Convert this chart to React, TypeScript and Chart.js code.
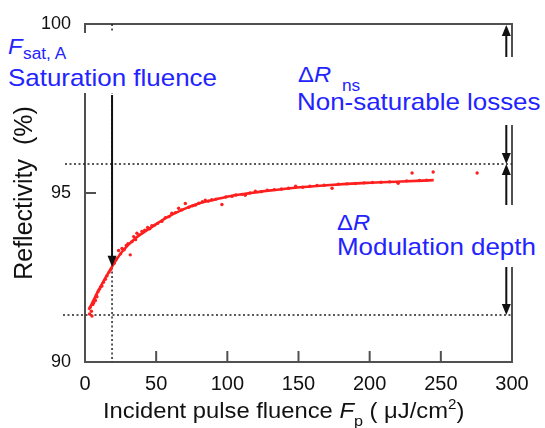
import React, { useEffect, useRef } from "react";
import { Chart, registerables } from "chart.js";

Chart.register(...registerables);

// ---- data ----
const xTickValues = [0, 50, 100, 150, 200, 250, 300];
const yTickValues = [90, 95, 100];

// fitted curve
const fitX = [2.6, 9.6, 19, 26, 35.4, 44.7, 56.4, 68.2, 79.9, 91.6, 103.3, 115, 129, 146, 170, 198, 222, 245];
const fitY = [91.54, 92.13, 92.82, 93.26, 93.66, 93.93, 94.25, 94.5, 94.69, 94.81, 94.92, 94.99, 95.07, 95.15, 95.23, 95.3, 95.34, 95.38];

// measured points
const measX = [3.2, 3.7, 4.5, 4.9, 5.5, 6.1, 6.8, 7.3, 8.0, 8.4, 9.2, 10.1, 11.0, 11.9, 13.0, 14.3, 15.5, 17.0, 18.2, 20.5, 22.0, 23.6, 25.0, 26.0, 27.5, 29.0, 30.2, 31.8, 33.0, 34.2, 35.5, 36.5, 38.0, 40.0, 42.0, 44.0, 45.5, 47.0, 49.0, 51.0, 54.0, 56.5, 59.0, 61.0, 63.5, 65.8, 68.0, 70.5, 73.0, 75.5, 77.5, 80.0, 82.5, 84.5, 86.8, 89.0, 92.0, 96.2, 99.0, 103.3, 106.0, 110.3, 112.6, 116.0, 119.7, 124.0, 128.0, 133.0, 138.0, 143.0, 148.0, 153.0, 158.0, 163.0, 168.0, 173.6, 178.0, 184.0, 190.0, 196.0, 202.0, 208.0, 214.0, 220.0, 226.0, 229.8, 235.0, 240.0, 244.6, 275.5];
const measY = [91.42, 91.62, 91.5, 91.36, 91.7, 91.75, 91.85, 91.82, 91.98, 91.93, 92.08, 92.15, 92.22, 92.25, 92.36, 92.45, 92.55, 92.66, 92.74, 92.92, 93.05, 93.3, 93.2, 93.36, 93.32, 93.45, 93.5, 93.17, 93.56, 93.71, 93.62, 93.81, 93.76, 93.86, 93.9, 93.98, 93.94, 94.03, 94.05, 94.1, 94.16, 94.27, 94.3, 94.4, 94.42, 94.55, 94.5, 94.69, 94.58, 94.62, 94.64, 94.7, 94.74, 94.79, 94.76, 94.8, 94.82, 94.66, 94.88, 94.9, 94.94, 94.96, 94.93, 95.0, 95.05, 95.04, 95.08, 95.1, 95.12, 95.14, 95.2, 95.17, 95.2, 95.22, 95.23, 95.14, 95.26, 95.27, 95.28, 95.3, 95.31, 95.32, 95.33, 95.29, 95.36, 95.59, 95.37, 95.38, 95.62, 95.59];

// reference levels
const levelTop = 100;
const levelNs = 95.86;
const levelBase = 91.39;
const fsatX = 19;
const fsatR = 92.82;
const arrowX = 296;

const FONT = '"Liberation Sans", Arial, Helvetica, sans-serif';
const BLUE = "#2323ff";
const AXIS = "#505050";

function arrowHead(ctx: CanvasRenderingContext2D, x: number, tipY: number, dir: number) {
  // dir = 1: pointing down, -1: pointing up
  ctx.beginPath();
  ctx.moveTo(x, tipY);
  ctx.lineTo(x - 4.5, tipY - dir * 11);
  ctx.lineTo(x + 4.5, tipY - dir * 11);
  ctx.closePath();
  ctx.fill();
}

const decorPlugin = {
  id: "decor",
  beforeDatasetsDraw(chart: any) {
    const { ctx, scales } = chart;
    const xs = scales.x;
    const ys = scales.y;
    const X = (v: number) => xs.getPixelForValue(v);
    const Y = (v: number) => ys.getPixelForValue(v);
    ctx.save();
    // top and right frame
    ctx.strokeStyle = AXIS;
    ctx.lineWidth = 2;
    ctx.beginPath();
    ctx.moveTo(X(0), Y(levelTop));
    ctx.lineTo(X(300), Y(levelTop));
    ctx.lineTo(X(300), Y(90));
    ctx.stroke();
    // dotted reference lines
    ctx.strokeStyle = "#222";
    ctx.lineWidth = 1.5;
    ctx.setLineDash([2, 2.5]);
    ctx.beginPath();
    ctx.moveTo(X(0) - 20, Y(levelNs));
    ctx.lineTo(X(300), Y(levelNs));
    ctx.moveTo(X(0) - 22, Y(levelBase));
    ctx.lineTo(X(300), Y(levelBase));
    ctx.moveTo(X(fsatX), Y(levelTop));
    ctx.lineTo(X(fsatX), Y(90));
    ctx.stroke();
    ctx.restore();
  },
  afterDatasetsDraw(chart: any) {
    const { ctx, scales } = chart;
    const xs = scales.x;
    const ys = scales.y;
    const X = (v: number) => xs.getPixelForValue(v);
    const Y = (v: number) => ys.getPixelForValue(v);
    ctx.save();
    // inward tick marks
    ctx.strokeStyle = AXIS;
    ctx.lineWidth = 2;
    ctx.setLineDash([]);
    for (const v of yTickValues) {
      ctx.beginPath();
      ctx.moveTo(X(0), Y(v));
      ctx.lineTo(X(0) + 11, Y(v));
      ctx.stroke();
    }
    for (const v of xTickValues) {
      if (v === 0 || v === 300) continue;
      ctx.beginPath();
      ctx.moveTo(X(v), Y(90));
      ctx.lineTo(X(v), Y(90) - 11);
      ctx.stroke();
    }

    ctx.strokeStyle = "#111";
    ctx.fillStyle = "#111";
    ctx.lineWidth = 2;
    // saturation fluence arrow
    const fx = X(fsatX);
    ctx.beginPath();
    ctx.moveTo(fx, Y(97.9));
    ctx.lineTo(fx, Y(fsatR) - 8);
    ctx.stroke();
    arrowHead(ctx, fx, Y(fsatR), 1);
    // right-hand double arrows
    const ax = X(arrowX);
    ctx.beginPath();
    ctx.moveTo(ax, Y(levelTop) + 8);
    ctx.lineTo(ax, Y(levelNs) - 8);
    ctx.moveTo(ax, Y(levelNs) + 8);
    ctx.lineTo(ax, Y(levelBase) - 8);
    ctx.stroke();
    arrowHead(ctx, ax, Y(levelTop) + 1, -1);
    arrowHead(ctx, ax, Y(levelNs), 1);
    arrowHead(ctx, ax, Y(levelNs), -1);
    arrowHead(ctx, ax, Y(levelBase), 1);
    ctx.restore();
  },
};

type TxtProps = {
  left: number;
  baseline: number;
  size: number;
  italic?: boolean;
  color?: string;
  sx?: number;
  children: React.ReactNode;
};

function Txt({ left, baseline, size, italic, color, sx, children }: TxtProps) {
  return (
    <div
      style={{
        position: "absolute",
        left,
        top: baseline - 0.8465 * size,
        fontSize: size,
        lineHeight: `${size}px`,
        fontFamily: FONT,
        fontStyle: italic ? "italic" : "normal",
        color: color || BLUE,
        whiteSpace: "nowrap",
        transform: `scaleX(${sx ?? 1.08})`,
        transformOrigin: "left top",
      }}
    >
      {children}
    </div>
  );
}

function WhiteBox({ left, top, width, height }: { left: number; top: number; width: number; height: number }) {
  return <div style={{ position: "absolute", left, top, width, height, background: "#fff" }} />;
}

export default function App() {
  const canvasRef = useRef<HTMLCanvasElement | null>(null);

  useEffect(() => {
    if (!canvasRef.current) return;
    const points = measX.map((x, i) => ({ x, y: measY[i] }));
    const fit = fitX.map((x, i) => ({ x, y: fitY[i] }));
    const chart = new Chart(canvasRef.current, {
      type: "scatter",
      data: {
        datasets: [
          {
            label: "measured",
            data: points,
            pointRadius: 1.7,
            pointBorderWidth: 0,
            pointBackgroundColor: "#ff1f1f",
            showLine: false,
          },
          {
            label: "fit",
            data: fit,
            showLine: true,
            borderColor: "#ff1f1f",
            borderWidth: 2.6,
            pointRadius: 0,
            cubicInterpolationMode: "monotone",
          },
        ],
      },
      options: {
        animation: false,
        responsive: true,
        maintainAspectRatio: false,
        layout: { padding: { left: 0, top: 24, right: 33, bottom: 0 } },
        plugins: {
          legend: { display: false },
          tooltip: { enabled: false },
        },
        scales: {
          x: {
            type: "linear",
            min: 0,
            max: 300,
            afterBuildTicks: (scale: any) => {
              scale.ticks = xTickValues.map((v) => ({ value: v }));
            },
            afterFit: (scale: any) => {
              scale.height = 66;
            },
            grid: { display: false },
            border: { display: true, color: AXIS, width: 2 },
            ticks: {
              color: "#111",
              padding: 2,
              maxRotation: 0,
              font: { family: FONT, size: 20 },
            },
          },
          y: {
            type: "linear",
            min: 90,
            max: 100,
            afterBuildTicks: (scale: any) => {
              scale.ticks = yTickValues.map((v) => ({ value: v }));
            },
            afterFit: (scale: any) => {
              scale.width = 85;
            },
            grid: { display: false },
            border: { display: true, color: AXIS, width: 2 },
            ticks: {
              color: "#111",
              padding: 6,
              font: { family: FONT, size: 18 },
            },
            title: {
              display: true,
              text: "Reflectivity  (%)",
              color: "#111",
              font: { family: FONT, size: 25 },
              padding: { top: 10, bottom: 0 },
            },
          },
        },
      },
      plugins: [decorPlugin],
    } as any);
    return () => chart.destroy();
  }, []);

  return (
    <div style={{ position: "absolute", left: 0, top: 0, width: 545, height: 428, overflow: "hidden", background: "#fff" }}>
      <canvas ref={canvasRef} style={{ position: "absolute", left: 0, top: 0, width: 545, height: 428 }} />

      <WhiteBox left={6} top={33} width={216} height={60} />
      <Txt left={8} baseline={55} size={22} italic>F</Txt>
      <Txt left={23} baseline={60} size={16}>sat, A</Txt>
      <Txt left={8} baseline={86} size={24}>Saturation fluence</Txt>

      <WhiteBox left={295} top={57} width={250} height={68} />
      <Txt left={298} baseline={83} size={22}>
        Δ<span style={{ fontStyle: "italic" }}>R</span>
      </Txt>
      <Txt left={342} baseline={92} size={16}>ns</Txt>
      <Txt left={297} baseline={110} size={24}>Non-saturable losses</Txt>

      <WhiteBox left={335} top={205} width={208} height={62} />
      <Txt left={337} baseline={231} size={22}>
        Δ<span style={{ fontStyle: "italic" }}>R</span>
      </Txt>
      <Txt left={337} baseline={255} size={24}>Modulation depth</Txt>

      <Txt left={103} baseline={419} size={22} color="#111">
        Incident pulse fluence <span style={{ fontStyle: "italic" }}>F</span>
        <span style={{ fontSize: 15, position: "relative", top: 8, lineHeight: "1" }}>p</span>
        {" ( μJ/cm"}
        <span style={{ fontSize: 14, position: "relative", top: -9, lineHeight: "1" }}>2</span>)
      </Txt>
    </div>
  );
}
